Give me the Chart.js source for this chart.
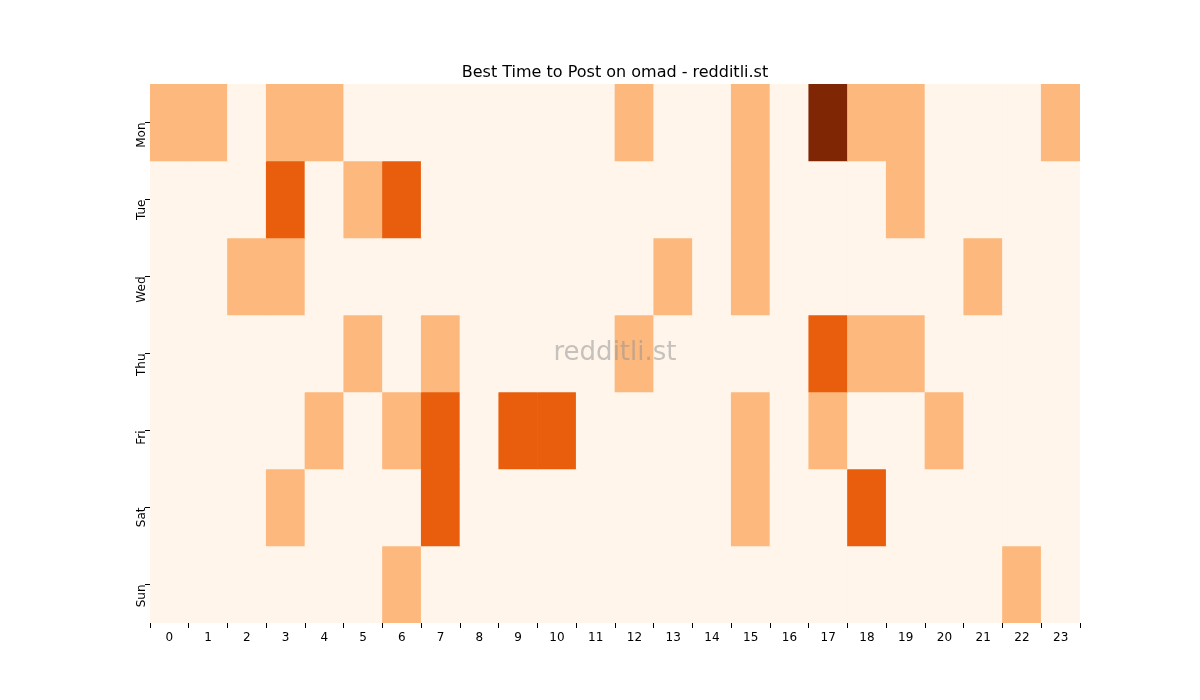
<!DOCTYPE html>
<html><head><meta charset="utf-8">
<script src="https://cdn.jsdelivr.net/npm/chart.js@4/dist/chart.umd.min.js"></script>
<style>html,body{margin:0;background:#fff}#w{width:1200px;height:700px}</style>
</head><body><div id="w"><canvas id="c"></canvas></div>
<script>
const hours = Array.from({length:24},(_,i)=>String(i));
const days = ["Mon","Tue","Wed","Thu","Fri","Sat","Sun"];
const mon = [1,1,0,1,1,0,0,0,0,0,0,0,1,0,0,1,0,3,1,1,0,0,0,1];
const tue = [0,0,0,2,0,1,2,0,0,0,0,0,0,0,0,1,0,0,0,1,0,0,0,0];
const wed = [0,0,1,1,0,0,0,0,0,0,0,0,0,1,0,1,0,0,0,0,0,1,0,0];
const thu = [0,0,0,0,0,1,0,1,0,0,0,0,1,0,0,0,0,2,1,1,0,0,0,0];
const fri = [0,0,0,0,1,0,1,2,0,2,2,0,0,0,0,1,0,1,0,0,1,0,0,0];
const sat = [0,0,0,1,0,0,0,2,0,0,0,0,0,0,0,1,0,0,2,0,0,0,0,0];
const sun = [0,0,0,0,0,0,1,0,0,0,0,0,0,0,0,0,0,0,0,0,0,0,1,0];
const rows = [mon,tue,wed,thu,fri,sat,sun];
const palette = ["#fff5eb","#fdb97d","#e95e0d","#7f2704"];

const datasets = rows.map((r,ri)=>({
  data: r.map(()=>[ri-0.5, ri+0.5]),
  backgroundColor: r.map(v=>palette[v]),
  barPercentage:1, categoryPercentage:1, borderWidth:0, grouped:false
}));

const deco = {id:'deco', afterDraw(ch){
  const c=ch.ctx, a=ch.chartArea;
  c.save();
  c.fillStyle='#000'; c.font='16px "DejaVu Sans"'; c.textAlign='center'; c.textBaseline='alphabetic';
  c.fillText('Best Time to Post on omad - redditli.st',(a.left+a.right)/2,a.top-7);
  c.fillStyle='rgba(150,150,150,0.55)'; c.font='26px "DejaVu Sans"'; c.textBaseline='middle';
  c.fillText('redditli.st',(a.left+a.right)/2,(a.top+a.bottom)/2);
  c.restore();
}};

new Chart(document.getElementById('c'),{
  type:'bar',
  data:{labels:hours, datasets},
  options:{
    responsive:true, maintainAspectRatio:false, animation:false,
    layout:{padding:{top:84,right:120,left:0,bottom:0}},
    plugins:{legend:{display:false},tooltip:{enabled:false}},
    scales:{
      x:{grid:{drawOnChartArea:false,drawTicks:true,tickLength:5,color:'#000'},border:{display:false},
         ticks:{color:'#000',font:{size:12,family:'DejaVu Sans'},maxRotation:0,autoSkip:false},
         afterFit(s){s.height=77;}},
      y:{type:'linear',min:-0.5,max:6.5,reverse:true,
         afterBuildTicks(s){s.ticks=days.map((d,i)=>({value:i}));},
         grid:{drawOnChartArea:false,drawTicks:true,tickLength:5,color:'#000'},border:{display:false},
         ticks:{color:'#000',font:{size:12,family:'DejaVu Sans'},minRotation:90,maxRotation:90,
                callback:v=>days[v]},
         afterFit(s){s.width=150;}}
    }
  },
  plugins:[deco]
});
</script></body></html>
